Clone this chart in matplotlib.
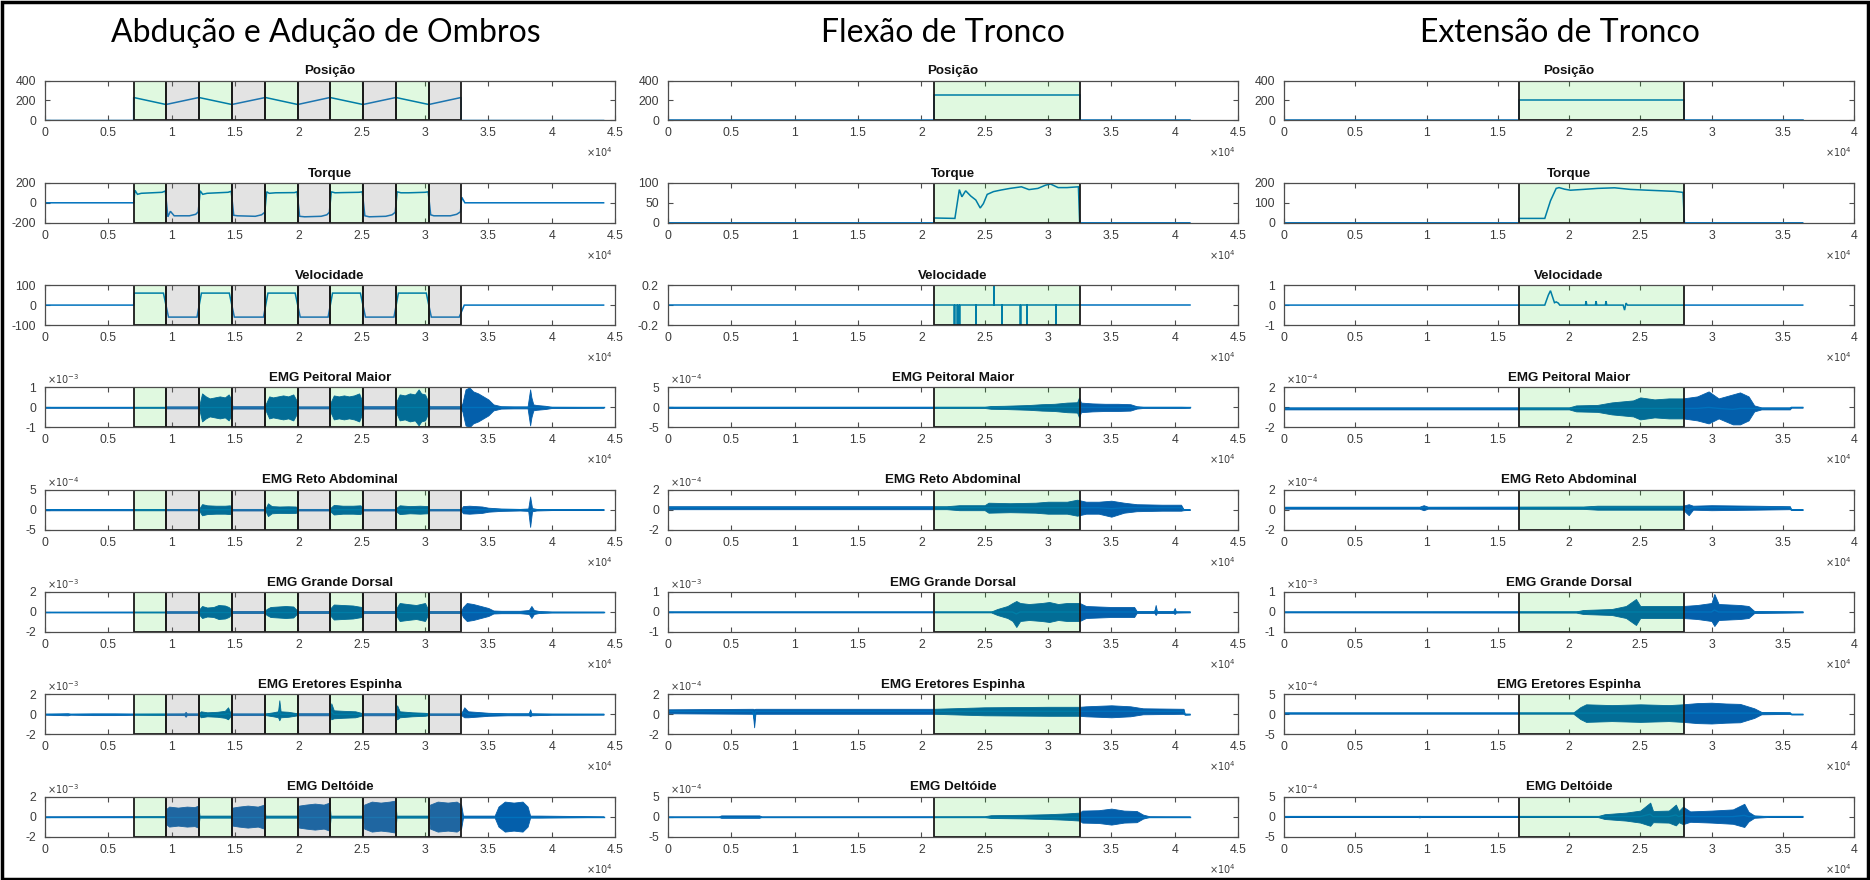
import numpy as np
import matplotlib
matplotlib.use("Agg")
import matplotlib.pyplot as plt
from matplotlib.ticker import FuncFormatter, FixedLocator
from matplotlib.patches import Rectangle

plt.rcParams['font.family'] = ['Liberation Sans', 'DejaVu Sans']

# ---------------------------------------------------------------- data
column_titles = ["Abdução e Adução de Ombros", "Flexão de Tronco", "Extensão de Tronco"]
row_titles = ["Posição", "Torque", "Velocidade", "EMG Peitoral Maior",
              "EMG Reto Abdominal", "EMG Grande Dorsal", "EMG Eretores Espinha",
              "EMG Deltóide"]

x_limits = [45000, 45000, 40000]
x_ticks = [np.arange(0, 45001, 5000), np.arange(0, 45001, 5000), np.arange(0, 40001, 5000)]

# movement phases (start sample, end sample, 'g' = concentric, 'c' = eccentric)
phases_ombros = [(7000, 9550, 'g'), (9550, 12150, 'c'), (12150, 14750, 'g'),
                 (14750, 17400, 'c'), (17400, 19950, 'g'), (19950, 22500, 'c'),
                 (22500, 25100, 'g'), (25100, 27700, 'c'), (27700, 30300, 'g'),
                 (30300, 32850, 'c')]
phases_flexao = [(21000, 32500, 'g')]
phases_extensao = [(16500, 28100, 'g')]

# position (sample, degrees)
pos_ombros = [(0, 0), (7000, 0), (7000, 230), (9550, 160), (12150, 230), (14750, 160),
              (17400, 230), (19950, 160), (22500, 230), (25100, 160), (27700, 230),
              (30300, 160), (32850, 230), (32850, 0), (44100, 0)]
pos_flexao = [(0, 0), (21000, 0), (21000, 255), (32500, 255), (32500, 0), (41200, 0)]
pos_extensao = [(0, 0), (16500, 0), (16500, 205), (28100, 205), (28100, 0), (36400, 0)]

# torque (sample, N.m)
torque_ombros = [(0, 0), (7000, 0), (7100, 125), (7300, 85), (7600, 95), (9250, 105), (9500, 118),
                 (9700, -140), (9900, -85), (10200, -130), (11400, -130), (11900, -115), (12100, -90),
                 (12250, 120), (12450, 85), (12800, 95), (14450, 105), (14700, 115),
                 (14900, -125), (15200, -130), (16600, -135), (17100, -120), (17350, -95),
                 (17500, 110), (17700, 95), (18200, 100), (19700, 102), (19900, 110),
                 (20100, -135), (20500, -140), (21800, -135), (22250, -120), (22450, -95),
                 (22600, 110), (22900, 100), (23500, 102), (24800, 105), (25050, 110),
                 (25250, -130), (25600, -140), (26900, -135), (27400, -120), (27650, -95),
                 (27800, 110), (28100, 100), (28700, 100), (30000, 105), (30250, 110),
                 (30450, -120), (30700, -130), (32000, -130), (32500, -115), (32800, -90),
                 (32900, 55), (33150, 0), (44100, 0)]
torque_flexao = [(0, 0), (21000, 0), (21000, 12), (22650, 11), (23000, 83), (23200, 65),
                 (23500, 80), (23900, 67), (24300, 57), (24650, 37), (24900, 48), (25200, 71),
                 (25700, 78), (26300, 82), (27000, 86), (27900, 90), (28500, 83), (29200, 86),
                 (29800, 94), (30200, 97), (30800, 88), (31500, 88), (32400, 90), (32500, 0),
                 (41200, 0)]
torque_extensao = [(0, 0), (16500, 0), (16500, 22), (18300, 22), (18700, 110), (19100, 172),
                   (19300, 176), (19700, 168), (20100, 163), (21000, 167), (22000, 172),
                   (23200, 175), (24300, 167), (25500, 163), (26500, 160), (27400, 157),
                   (28000, 152), (28100, 0), (36400, 0)]

# angular velocity (sample, deg/s)
vel_ombros = [(0, 0), (7000, 0), (7050, 60), (9350, 60), (9750, -60), (12000, -60), (12350, 60),
              (14550, 60), (14950, -60), (17250, -60), (17600, 60), (19750, 60), (20150, -60),
              (22350, -60), (22700, 60), (24900, 60), (25300, -60), (27550, -60), (27900, 60),
              (30100, 60), (30500, -60), (32700, -60), (33100, 0), (44100, 0)]
vel_flexao_spike_x = [22600, 22850, 23000, 24300, 25700, 26350, 27800, 28330, 30620]
vel_flexao_spike_v = [-0.3, -0.3, -0.3, -0.3, 0.3, -0.3, -0.3, -0.3, -0.3]
vel_flexao_end = 41200
vel_extensao = [(0, 0), (18300, 0), (18550, 0.5), (18700, 0.72), (18850, 0.4), (18980, 0.12),
                (19100, 0.16), (19250, 0.1), (19350, 0), (21150, 0), (21200, 0.2), (21250, 0),
                (21850, 0), (21900, 0.2), (21950, 0), (22550, 0), (22600, 0.2), (22650, 0),
                (23800, 0), (23900, -0.25), (24000, 0.1), (24100, 0), (36400, 0)]

# EMG envelopes: (sample, baseline, half amplitude), in units of the axis multiplier
emg_peitoral_ombros = [
    (0, 0, 0.02), (9500, 0, 0.02), (9600, 0, 0.05), (12100, 0, 0.05), (12200, 0, 0.15),
    (12400, 0, 0.7), (12700, 0, 0.55), (13000, 0, 0.45), (13400, 0, 0.5), (13800, 0, 0.55),
    (14200, 0, 0.5), (14500, 0, 0.65), (14700, 0, 0.4), (14800, 0, 0.06), (17300, 0, 0.06),
    (17450, 0, 0.2), (17700, 0, 0.55), (18000, 0, 0.5), (18400, 0, 0.55), (18800, 0, 0.6),
    (19200, 0, 0.55), (19600, 0, 0.65), (19900, 0, 0.3), (20000, 0, 0.05), (22400, 0, 0.05),
    (22550, 0, 0.25), (22800, 0, 0.6), (23200, 0, 0.55), (23600, 0, 0.6), (24000, 0, 0.55),
    (24400, 0, 0.6), (24800, 0, 0.7), (25050, 0, 0.3), (25150, 0, 0.06), (27600, 0, 0.06),
    (27750, 0, 0.3), (28000, 0, 0.65), (28400, 0, 0.6), (28800, 0, 0.7), (29200, 0, 0.65),
    (29500, 0, 0.9), (29700, 0, 0.7), (30000, 0, 0.65), (30250, 0, 0.3), (30350, 0, 0.06),
    (32800, 0, 0.06), (32950, 0, 0.2), (33200, 0, 0.9), (33500, 0, 1.0), (33800, 0, 0.8),
    (34200, 0, 0.7), (34600, 0, 0.55), (35000, 0, 0.4), (35400, 0, 0.15), (36000, 0, 0.06),
    (37000, 0, 0.05), (38100, 0, 0.05), (38300, 0, 0.9), (38400, 0, 0.5), (38550, 0, 0.15),
    (38800, 0, 0.12), (39500, 0, 0.08), (40000, 0, 0.03), (44100, 0, 0.02)]
emg_reto_ombros = [
    (0, 0, 0.15), (12100, 0, 0.15), (12200, 0, 0.4), (12400, 0, 1.4), (12800, 0, 1.1),
    (13500, 0, 1.0), (14200, 0, 1.0), (14600, 0, 1.1), (14800, 0, 0.2), (17350, 0, 0.2),
    (17450, 0, 0.6), (17600, 0, 1.6), (17900, 0, 0.9), (18500, 0, 0.8), (19200, 0, 0.85),
    (19800, 0, 0.8), (20000, 0, 0.2), (22450, 0, 0.2), (22550, 0, 0.5), (22800, 0, 1.2),
    (23500, 0, 1.0), (24300, 0, 1.0), (24900, 0, 1.1), (25150, 0, 0.2), (27650, 0, 0.2),
    (27750, 0, 0.5), (28000, 0, 1.1), (28800, 0, 0.9), (29600, 0, 1.0), (30200, 0, 0.9),
    (30350, 0, 0.2), (32850, 0, 0.2), (33000, 0, 0.9), (33500, 0, 1.0), (34500, 0, 0.8),
    (35000, 0, 0.5), (36000, 0, 0.3), (37500, 0, 0.2), (38150, 0, 0.3), (38300, -0.5, 3.8),
    (38450, 0, 0.4), (38800, 0, 0.2), (40000, 0, 0.1), (44100, 0, 0.1)]
emg_dorsal_ombros = [
    (0, 0, 0.03), (9500, 0, 0.04), (9600, 0, 0.08), (12100, 0, 0.08), (12200, 0, 0.3),
    (12400, 0, 0.6), (12800, 0, 0.45), (13300, 0, 0.5), (13700, 0, 0.7), (14200, 0, 0.65),
    (14500, 0, 0.5), (14800, 0, 0.1), (17350, 0, 0.1), (17500, 0, 0.3), (17800, 0, 0.5),
    (18400, 0, 0.55), (19000, 0, 0.6), (19600, 0, 0.55), (19950, 0, 0.1), (22450, 0, 0.1),
    (22550, 0, 0.4), (22800, 0, 0.75), (23500, 0, 0.7), (24300, 0, 0.65), (25000, 0, 0.5),
    (25150, 0, 0.1), (27650, 0, 0.1), (27750, 0, 0.4), (28000, 0, 0.9), (28600, 0, 0.8),
    (29300, 0, 0.7), (30000, 0, 0.9), (30300, 0, 0.1), (32850, 0, 0.1), (33000, 0, 0.5),
    (33300, 0, 0.9), (33800, 0, 0.8), (34400, 0, 0.6), (35000, 0, 0.4), (35400, 0, 0.15),
    (36000, 0, 0.12), (37500, 0, 0.12), (38200, 0, 0.2), (38400, 0, 0.6), (38600, 0, 0.2),
    (39000, 0, 0.1), (40000, 0, 0.05), (44100, 0, 0.04)]
emg_eretores_ombros = [
    (0, 0, 0.04), (1800, 0, 0.1), (2000, 0, 0.04), (3800, 0, 0.08), (5500, 0, 0.08),
    (7000, 0, 0.05), (11000, 0, 0.08), (11100, 0, 0.25), (11200, 0, 0.08), (12150, 0, 0.08),
    (12300, 0, 0.3), (12800, 0, 0.2), (13600, 0, 0.25), (14200, 0, 0.35), (14450, 0.1, 0.6),
    (14600, 0, 0.25), (14800, 0, 0.08), (17400, 0, 0.08), (18000, 0, 0.2), (18400, 0, 0.3),
    (18500, 0.4, 1.0), (18600, 0, 0.3), (19200, 0, 0.25), (19950, 0, 0.1), (22500, 0, 0.1),
    (22600, 0.3, 0.8), (22800, 0, 0.4), (23500, 0, 0.35), (24500, 0, 0.3), (25100, 0, 0.1),
    (27700, 0, 0.1), (27800, 0.2, 0.7), (28000, 0, 0.3), (29000, 0, 0.2), (30000, 0, 0.15),
    (30300, 0, 0.08), (32850, 0, 0.08), (33100, 0.2, 0.5), (33400, 0, 0.3), (34500, 0, 0.2),
    (35000, 0, 0.15), (36500, 0, 0.1), (38200, 0, 0.1), (38300, 0.15, 0.35), (38400, 0, 0.1),
    (40000, 0, 0.05), (44100, 0, 0.04)]
emg_deltoide_ombros = [
    (0, 0, 0.03), (9500, 0, 0.05), (9600, 0, 0.8), (9800, 0, 1.0), (10500, 0, 0.9),
    (11200, 0, 1.0), (11800, 0, 0.95), (12100, 0, 1.1), (12200, 0, 0.1), (14700, 0, 0.1),
    (14800, 0, 0.9), (15300, 0, 1.0), (16000, 0, 1.1), (16800, 0, 1.0), (17300, 0, 1.2),
    (17400, 0, 0.1), (19950, 0, 0.1), (20050, 0, 1.1), (20600, 0, 1.2), (21300, 0, 1.3),
    (22000, 0, 1.2), (22450, 0, 1.4), (22550, 0, 0.1), (25100, 0, 0.1), (25200, 0, 1.2),
    (25800, 0, 1.5), (26500, 0, 1.4), (27200, 0, 1.5), (27650, 0, 1.6), (27750, 0, 0.1),
    (30300, 0, 0.1), (30400, 0, 1.2), (31000, 0, 1.5), (31800, 0, 1.4), (32500, 0, 1.5),
    (32850, 0, 1.2), (33000, 0, 0.1), (35500, 0, 0.1), (35800, 0, 1.0), (36300, 0, 1.5),
    (37000, 0, 1.4), (37700, 0, 1.5), (38100, 0, 1.0), (38300, 0, 0.1), (39000, 0, 0.1),
    (44100, 0, 0.03)]

emg_peitoral_flexao = [
    (0, 0, 0.15), (25000, 0, 0.15), (25500, 0, 0.35), (26500, 0, 0.4), (27500, 0, 0.5),
    (28500, 0, 0.6), (29500, 0, 0.8), (30500, 0, 0.9), (31500, 0, 1.2), (32300, 0, 1.3),
    (32450, 0, 2.5), (32600, 0, 1.2), (33500, 0, 1.0), (34500, 0, 0.9), (35500, 0, 0.9),
    (36500, 0, 0.8), (37000, 0, 0.3), (37500, 0, 0.15), (40500, 0, 0.15), (41200, 0, 0.1)]
emg_reto_flexao = [
    (0, 0.2, 0.15), (22000, 0.2, 0.15), (23000, 0.2, 0.25), (25000, 0.2, 0.25),
    (25300, 0.2, 0.5), (27000, 0.2, 0.45), (29000, 0.2, 0.5), (30000, 0.2, 0.6),
    (31500, 0.2, 0.6), (32300, 0.2, 0.8), (33000, 0.2, 0.6), (34000, 0.2, 0.6),
    (35000, 0.1, 0.8), (36000, 0.2, 0.5), (37000, 0.2, 0.35), (39000, 0.2, 0.3),
    (40500, 0.2, 0.3), (40700, 0.0, 0.05), (41200, 0.0, 0.02)]
emg_dorsal_flexao = [
    (0, 0, 0.02), (25500, 0, 0.02), (26000, 0, 0.15), (26800, 0, 0.3), (27200, 0, 0.45),
    (27500, -0.1, 0.65), (27800, 0, 0.45), (28500, 0, 0.4), (29500, 0, 0.45), (30100, 0, 0.5),
    (30800, 0, 0.4), (31500, 0, 0.45), (32500, 0, 0.45), (33000, 0, 0.3), (35000, 0, 0.25),
    (36800, 0, 0.25), (37000, 0, 0.05), (38400, 0, 0.05), (38500, 0.1, 0.25), (38600, 0, 0.05),
    (39900, 0, 0.05), (40000, 0.05, 0.15), (40100, 0, 0.03), (41200, 0, 0.02)]
emg_eretores_flexao = [
    (0, 0.3, 0.2), (6700, 0.3, 0.25), (6800, -0.4, 0.9), (6900, 0.3, 0.25), (21000, 0.3, 0.25),
    (25000, 0.3, 0.4), (30000, 0.3, 0.45), (32500, 0.3, 0.45), (33000, 0.3, 0.5),
    (35000, 0.3, 0.6), (36500, 0.3, 0.5), (37500, 0.3, 0.3), (40700, 0.3, 0.25),
    (40800, 0.0, 0.05), (41200, 0.0, 0.03)]
emg_deltoide_flexao = [
    (0, 0, 0.05), (4000, 0, 0.05), (4200, 0, 0.3), (7200, 0, 0.3), (7400, 0, 0.05),
    (25000, 0, 0.1), (25500, 0, 0.35), (28000, 0, 0.45), (30000, 0, 0.6), (31500, 0, 0.8),
    (32500, 0, 1.0), (32700, 0, 1.5), (34000, 0, 1.6), (35000, 0, 2.0), (36000, 0, 1.5),
    (37000, 0, 1.4), (37500, 0, 0.5), (38000, 0, 0.1), (41200, 0, 0.05)]

emg_peitoral_extensao = [
    (0, -0.1, 0.1), (20000, -0.1, 0.1), (20500, -0.1, 0.3), (22000, -0.1, 0.35),
    (23000, -0.1, 0.6), (24500, -0.1, 0.8), (25000, -0.1, 1.1), (26000, -0.1, 0.9),
    (27000, -0.1, 1.0), (28000, -0.1, 1.0), (29000, -0.1, 1.2), (29800, 0.0, 1.6),
    (30500, -0.1, 1.0), (31500, -0.2, 1.5), (32000, -0.1, 1.6), (32600, -0.1, 1.2),
    (33000, -0.1, 0.3), (33500, -0.1, 0.1), (35500, -0.1, 0.1), (35600, 0.0, 0.02),
    (36400, 0.0, 0.02)]
emg_reto_extensao = [
    (0, 0.2, 0.1), (9500, 0.2, 0.1), (9800, 0.2, 0.25), (10100, 0.2, 0.1), (21000, 0.2, 0.12),
    (22000, 0.2, 0.2), (28000, 0.2, 0.2), (28400, 0.0, 0.55), (28700, 0.2, 0.2),
    (30000, 0.2, 0.25), (33000, 0.2, 0.2), (35500, 0.2, 0.15), (35600, 0.0, 0.02),
    (36400, 0.0, 0.02)]
emg_dorsal_extensao = [
    (0, 0, 0.02), (20500, 0, 0.03), (21000, 0, 0.1), (23000, 0, 0.15), (24000, 0, 0.3),
    (24700, 0, 0.65), (25000, 0, 0.3), (27000, 0, 0.3), (28000, 0, 0.3), (29000, 0, 0.35),
    (30000, 0, 0.45), (30200, 0.1, 0.8), (30500, 0, 0.4), (32000, 0, 0.35), (32600, 0, 0.3),
    (33000, 0, 0.05), (35500, 0, 0.03), (36400, 0, 0.02)]
emg_eretores_extensao = [
    (0, 0.3, 0.15), (20300, 0.3, 0.15), (20800, 0.3, 1.5), (21200, 0.3, 2.2),
    (23000, 0.3, 2.0), (25000, 0.3, 2.2), (27000, 0.3, 2.0), (28000, 0.3, 2.2),
    (29000, 0.3, 2.5), (30000, 0.3, 2.6), (31000, 0.3, 2.4), (32000, 0.3, 2.3),
    (33000, 0.3, 1.2), (33500, 0.3, 0.3), (35500, 0.3, 0.2), (35600, 0.0, 0.05),
    (36400, 0.0, 0.05)]
emg_deltoide_extensao = [
    (0, 0, 0.05), (9300, 0, 0.05), (9500, 0, 0.2), (9700, 0, 0.05), (22000, 0, 0.1),
    (22500, 0, 0.6), (24000, 0, 1.0), (25000, 0, 1.5), (25700, 0.6, 2.9), (25900, 0, 1.4),
    (27000, 0, 1.5), (27500, 0.4, 2.6), (27700, 0, 1.4), (28000, 0.3, 2.2), (28500, 0, 1.3),
    (30000, 0, 1.5), (31500, 0, 1.8), (32300, 0.3, 2.9), (32600, 0, 1.2), (33000, 0, 0.3),
    (34000, 0, 0.1), (36400, 0, 0.05)]

# y axes: ticks per row for each column, and EMG exponents
y_ticks_ombros = [[0, 200, 400], [-200, 0, 200], [-100, 0, 100],
                  [-1, 0, 1], [-5, 0, 5], [-2, 0, 2], [-2, 0, 2], [-2, 0, 2]]
y_ticks_flexao = [[0, 200, 400], [0, 50, 100], [-0.2, 0, 0.2],
                  [-5, 0, 5], [-2, 0, 2], [-1, 0, 1], [-2, 0, 2], [-5, 0, 5]]
y_ticks_extensao = [[0, 200, 400], [0, 100, 200], [-1, 0, 1],
                    [-2, 0, 2], [-2, 0, 2], [-1, 0, 1], [-5, 0, 5], [-5, 0, 5]]
emg_exp_ombros = [-3, -4, -3, -3, -3]
emg_exp_flexao = [-4, -4, -3, -4, -4]
emg_exp_extensao = [-4, -4, -3, -4, -4]

# ---------------------------------------------------------------- style
LINE = '#0072BD'
EMG = '#045fab'
AX_COL = '#4d4d4d'
TXT_COL = '#3c3c3c'
GREEN = (0.0, 0.83, 0.0, 0.12)
GRAY = (0.5, 0.5, 0.5, 0.22)

W, H = 1870, 880
fig = plt.figure(figsize=(W / 100, H / 100), dpi=100)
fig.patch.set_facecolor('white')

col_left = [45, 668, 1284]
ax_width = 570
row_top0, row_pitch, ax_height = 80.5, 102.3, 40.0
title_x = [326, 943, 1560]


def spikes_to_path(xs, vs, end, width=40):
    pts = [(0, 0)]
    for x, v in zip(xs, vs):
        pts += [(x, 0), (x, v), (x + width, v), (x + width, 0)]
    pts.append((end, 0))
    return pts


def draw_line(ax, pts):
    x, y = zip(*pts)
    ax.plot(x, y, color=LINE, lw=1.1, zorder=2, solid_joinstyle='miter')


def draw_emg(ax, knots, scale):
    arr = np.array(knots, dtype=float)
    x, c, a = arr[:, 0], arr[:, 1] * scale, arr[:, 2] * scale
    ax.fill_between(x, c - a, c + a, color=EMG, lw=0.6, zorder=2)
    ax.plot(x, c, color=LINE, lw=1.0, zorder=2)


columns = [
    dict(phases=phases_ombros, pos=pos_ombros, torque=torque_ombros, vel=vel_ombros,
         emg=[emg_peitoral_ombros, emg_reto_ombros, emg_dorsal_ombros,
              emg_eretores_ombros, emg_deltoide_ombros],
         exps=emg_exp_ombros, yt=y_ticks_ombros),
    dict(phases=phases_flexao, pos=pos_flexao, torque=torque_flexao,
         vel=spikes_to_path(vel_flexao_spike_x, vel_flexao_spike_v, vel_flexao_end),
         emg=[emg_peitoral_flexao, emg_reto_flexao, emg_dorsal_flexao,
              emg_eretores_flexao, emg_deltoide_flexao],
         exps=emg_exp_flexao, yt=y_ticks_flexao),
    dict(phases=phases_extensao, pos=pos_extensao, torque=torque_extensao, vel=vel_extensao,
         emg=[emg_peitoral_extensao, emg_reto_extensao, emg_dorsal_extensao,
              emg_eretores_extensao, emg_deltoide_extensao],
         exps=emg_exp_extensao, yt=y_ticks_extensao),
]

for c, col in enumerate(columns):
    fig.text(title_x[c] / W, 1 - 33 / H, column_titles[c], family=['Lato', 'DejaVu Sans'],
             fontsize=23, ha='center', va='center', color='black')
    for r in range(8):
        top = row_top0 + r * row_pitch
        ax = fig.add_axes([col_left[c] / W, 1 - (top + ax_height) / H,
                           ax_width / W, ax_height / H])
        yt = col['yt'][r]
        scale = 1.0
        if r == 0:
            draw_line(ax, col['pos'])
        elif r == 1:
            draw_line(ax, col['torque'])
        elif r == 2:
            draw_line(ax, col['vel'])
        else:
            exp = col['exps'][r - 3]
            scale = 10.0 ** exp
            draw_emg(ax, col['emg'][r - 3], scale)
            ax.annotate(r'$\times10^{%d}$' % exp, xy=(0, 1), xycoords='axes fraction',
                        xytext=(2, 1), textcoords='offset pixels', fontsize=7,
                        color=TXT_COL, ha='left', va='bottom')

        for x0, x1, kind in col['phases']:
            ax.axvspan(x0, x1, facecolor=GREEN if kind == 'g' else GRAY,
                       edgecolor='#1a1a1a', lw=1.3, zorder=3)

        ax.set_xlim(0, x_limits[c])
        ax.set_ylim(yt[0] * scale, yt[-1] * scale)
        ax.xaxis.set_major_locator(FixedLocator(x_ticks[c]))
        ax.yaxis.set_major_locator(FixedLocator([v * scale for v in yt]))
        ax.xaxis.set_major_formatter(FuncFormatter(lambda v, _: f"{v / 1e4:g}"))
        ax.yaxis.set_major_formatter(FuncFormatter(lambda v, _, s=scale: f"{round(v / s, 6):g}"))
        ax.tick_params(direction='in', length=3.5, width=0.8, color=AX_COL,
                       labelsize=8.8, labelcolor=TXT_COL, top=True, right=True)
        ax.tick_params(axis='x', pad=5.0)
        ax.tick_params(axis='y', pad=6.5)
        for sp in ax.spines.values():
            sp.set_color(AX_COL)
            sp.set_linewidth(0.9)
            sp.set_zorder(4)
        ax.set_title(row_titles[r], fontsize=9.6, fontweight='bold', pad=4.5, color='#111111')
        ax.annotate(r'$\times10^{4}$', xy=(1, 0), xycoords='axes fraction',
                    xytext=(-2, -32), textcoords='offset pixels', fontsize=7,
                    color=TXT_COL, ha='right', va='center')

# frame around the whole panel
fig.add_artist(Rectangle((0.001, 0.001), 0.998, 0.997, transform=fig.transFigure,
                         fill=False, edgecolor='black', lw=2.5))

fig.savefig('out.png', dpi=100, facecolor='white')
